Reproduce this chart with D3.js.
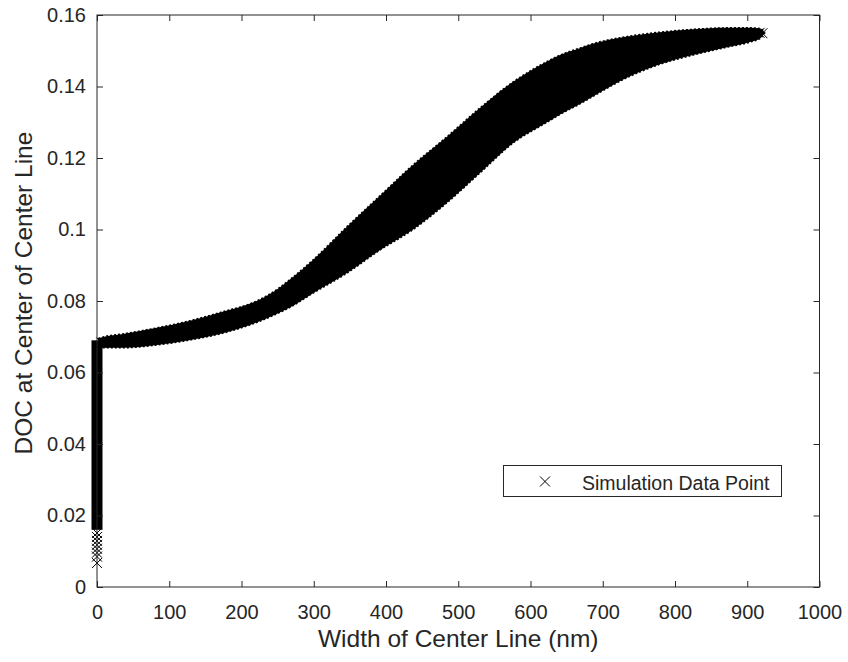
<!DOCTYPE html>
<html>
<head>
<meta charset="utf-8">
<script src="https://cdn.jsdelivr.net/npm/d3@7"></script>
<style>
body { margin: 0; background: #fff; }
svg { display: block; }
text { font-family: "Liberation Sans", Arial, sans-serif; fill: #262626; }
</style>
</head>
<body>
<script>
// band of simulation points: upper/lower envelope
var bandX     = [2, 8, 36, 83, 129, 174, 221, 253, 267, 299, 346, 392, 437, 484, 530, 576, 623, 641, 669, 687, 734, 779, 825, 872, 905, 918, 924];
var bandUpper = [0.0695, 0.0699, 0.0708, 0.0725, 0.0745, 0.0770, 0.0800, 0.0838, 0.0860, 0.0915, 0.1008, 0.1095, 0.1180, 0.1259, 0.1340, 0.1413, 0.1470, 0.1488, 0.1508, 0.1520, 0.1540, 0.1552, 0.1560, 0.1564, 0.1564, 0.1562, 0.1552];
var bandLower = [0.0665, 0.0669, 0.0669, 0.0677, 0.0691, 0.0710, 0.0740, 0.0768, 0.0782, 0.0822, 0.0878, 0.0943, 0.0999, 0.1074, 0.1158, 0.1242, 0.1300, 0.1322, 0.1352, 0.1373, 0.1425, 0.1462, 0.1488, 0.1510, 0.1525, 0.1535, 0.1548];

// dense column of points at width 0
var stripRange = [0.0160, 0.0690];
// sparse points at width 0 below the dense column
var stripY = [0.0067, 0.0085, 0.0096, 0.0107, 0.0118, 0.0129, 0.0140, 0.0151];
// loose points where the band starts and ends
var looseX = [6, 10, 14, 18, 917, 921];
var looseY = [0.0684, 0.0684, 0.0684, 0.0684, 0.1550, 0.1549];

var xTicks = [0, 100, 200, 300, 400, 500, 600, 700, 800, 900, 1000];
var yTicks = [0, 0.02, 0.04, 0.06, 0.08, 0.1, 0.12, 0.14, 0.16];

var W = 848, H = 662;
var m = {left: 97, right: 28.5, top: 15, bottom: 75};
var w = W - m.left - m.right, h = H - m.top - m.bottom;

var svg = d3.select("body").append("svg").attr("width", W).attr("height", H);
var g = svg.append("g").attr("transform", "translate(" + m.left + "," + m.top + ")");

var x = d3.scaleLinear().domain([0, 1000]).range([0, w]);
var y = d3.scaleLinear().domain([0, 0.16]).range([h, 0]);

function cross(sel, s) {
  return sel.attr("d", "M" + (-s) + "," + (-s) + "L" + s + "," + s + "M" + (-s) + "," + s + "L" + s + "," + (-s))
    .attr("fill", "none").attr("stroke", "#000").attr("stroke-width", 1);
}

// band
var band = bandX.map(function(d, i){ return {x: d, lo: bandLower[i], hi: bandUpper[i]}; });
g.append("path").datum(band)
  .attr("fill", "#000")
  .attr("stroke", "#000").attr("stroke-width", 1.5).attr("stroke-dasharray", "2,2")
  .attr("d", d3.area().x(function(d){ return x(d.x); }).y0(function(d){ return y(d.lo); }).y1(function(d){ return y(d.hi); }).curve(d3.curveMonotoneX));

// column at width 0
g.append("rect")
  .attr("x", x(0) - 5.5).attr("width", 11)
  .attr("y", y(stripRange[1])).attr("height", y(stripRange[0]) - y(stripRange[1]))
  .attr("fill", "#000");

g.selectAll("path.strip").data(stripY).enter().append("path")
  .attr("class", "strip")
  .attr("transform", function(d){ return "translate(" + x(0) + "," + y(d) + ")"; })
  .call(cross, 5);

g.selectAll("path.loose").data(looseX).enter().append("path")
  .attr("class", "loose")
  .attr("transform", function(d, i){ return "translate(" + x(d) + "," + y(looseY[i]) + ")"; })
  .call(cross, 5);

// axes, box with inward ticks
var axisColor = "#262626";
function style(sel) {
  sel.select(".domain").remove();
  sel.selectAll(".tick line").attr("stroke", axisColor);
  sel.selectAll(".tick text").attr("font-size", 20).attr("fill", axisColor);
}
g.append("g").attr("transform", "translate(0," + h + ")")
  .call(d3.axisBottom(x).tickValues(xTicks).tickFormat(d3.format("d")).tickSizeInner(-6).tickPadding(18))
  .call(style);
g.append("g")
  .call(d3.axisLeft(y).tickValues(yTicks).tickFormat(function(d){ return d3.format("")(+d.toFixed(2)); }).tickSizeInner(-6).tickPadding(11))
  .call(style);
g.append("g")
  .call(d3.axisTop(x).tickValues(xTicks).tickFormat("").tickSizeInner(-6))
  .call(style);
g.append("g").attr("transform", "translate(" + w + ",0)")
  .call(d3.axisRight(y).tickValues(yTicks).tickFormat("").tickSizeInner(-6))
  .call(style);
g.append("rect").attr("width", w).attr("height", h)
  .attr("fill", "none").attr("stroke", axisColor).attr("stroke-width", 1);

// axis labels
svg.append("text").attr("x", m.left + w / 2).attr("y", 647)
  .attr("text-anchor", "middle").attr("font-size", 24.5)
  .text("Width of Center Line (nm)");
svg.append("text").attr("transform", "translate(32,293) rotate(-90)")
  .attr("text-anchor", "middle").attr("font-size", 24.5)
  .text("DOC at Center of Center Line");

// legend
var leg = svg.append("g").attr("transform", "translate(503.5,465.5)");
leg.append("rect").attr("width", 278).attr("height", 31)
  .attr("fill", "#fff").attr("stroke", axisColor).attr("stroke-width", 1);
leg.append("path").attr("transform", "translate(41.5,16)").call(cross, 5);
leg.append("text").attr("x", 78.5).attr("y", 24).attr("font-size", 19.5).text("Simulation Data Point");
</script>
</body>
</html>
